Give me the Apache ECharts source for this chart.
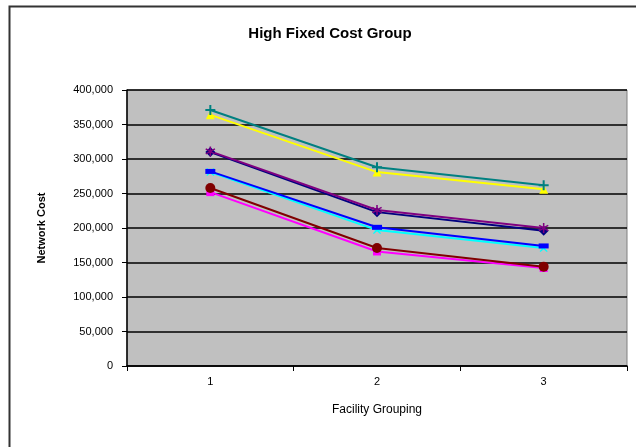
<!DOCTYPE html>
<html>
<head>
<meta charset="utf-8">
<script src="https://cdn.jsdelivr.net/npm/echarts@6/dist/echarts.min.js"></script>
<style>html,body{margin:0;padding:0;background:#fff;}#c{width:636px;height:447px;}</style>
</head>
<body>
<div id="c"></div>
<script>
var categories = ['1', '2', '3'];
var navyDiamond = [310000, 223000, 196000];
var magentaSquare = [252000, 166000, 142000];
var yellowTriangle = [364000, 281000, 256000];
var cyanX = [281000, 197000, 171000];
var purpleStar = [311000, 226000, 200000];
var darkRedCircle = [258000, 171000, 144000];
var tealPlus = [371000, 288000, 262000];
var blueDash = [282000, 201000, 174000];
var yTicks = [0, 50000, 100000, 150000, 200000, 250000, 300000, 350000, 400000];

var FONT = 'Liberation Sans, Arial, sans-serif';
var plusPath = 'path://M4,0 L6,0 L6,4 L10,4 L10,6 L6,6 L6,10 L4,10 L4,6 L0,6 L0,4 L4,4 Z';
var xPath = 'path://M1,0 L5,3.6 L9,0 L10,1 L6.4,5 L10,9 L9,10 L5,6.4 L1,10 L0,9 L3.6,5 L0,1 Z';
var starPath = 'path://M4.3,0 L5.7,0 L5.7,3.6 L8.8,1.8 L9.5,3 L6.4,4.8 L6.4,5.2 L9.5,7 L8.8,8.2 L5.7,6.4 L5.7,10 L4.3,10 L4.3,6.4 L1.2,8.2 L0.5,7 L3.6,5.2 L3.6,4.8 L0.5,3 L1.2,1.8 L4.3,3.6 Z';

function mk(name, data, color, symbol, size) {
  return {
    name: name, type: 'line', data: data,
    symbol: symbol, symbolSize: size,
    lineStyle: {color: color, width: 2},
    itemStyle: {color: color},
    animation: false
  };
}

var chart = echarts.init(document.getElementById('c'));
chart.setOption({
  backgroundColor: '#ffffff',
  animation: false,
  title: {
    text: 'High Fixed Cost Group',
    left: 325, top: 21, textAlign: 'center',
    textStyle: {fontFamily: FONT, fontSize: 15, fontWeight: 'bold', color: '#000'}
  },
  graphic: [{
    type: 'rect', left: 7, top: 4, silent: true,
    shape: {width: 700, height: 520},
    style: {fill: 'none', stroke: '#333', lineWidth: 2}
  }],
  grid: {
    left: 127, right: 9, top: 90, bottom: 81,
    show: true, backgroundColor: '#C0C0C0', borderColor: '#808080', borderWidth: 1
  },
  xAxis: {
    type: 'category', data: categories, boundaryGap: true,
    name: 'Facility Grouping', nameLocation: 'middle', nameGap: 38,
    nameTextStyle: {fontFamily: FONT, fontSize: 12, color: '#000'},
    axisLine: {lineStyle: {color: '#000', width: 1.5}},
    axisTick: {show: true, length: 5, lineStyle: {color: '#000'}},
    axisLabel: {fontFamily: FONT, fontSize: 11, color: '#000', margin: 10},
    splitLine: {show: false}
  },
  yAxis: {
    type: 'value', min: 0, max: 400000, interval: 50000,
    name: 'Network Cost', nameLocation: 'middle', nameGap: 80,
    nameTextStyle: {fontFamily: FONT, fontSize: 11, fontWeight: 'bold', color: '#000'},
    axisLine: {show: true, lineStyle: {color: '#000', width: 1.5}},
    axisTick: {show: true, length: 5, lineStyle: {color: '#000'}},
    axisLabel: {
      fontFamily: FONT, fontSize: 11, color: '#000', margin: 14,
      formatter: function (v) { return yTicks.indexOf(v) >= 0 ? v.toLocaleString('en-US') : ''; }
    },
    splitLine: {show: true, lineStyle: {color: '#000', width: 1.5}}
  },
  series: [
    mk('S1', navyDiamond, '#000080', 'diamond', 10),
    mk('S2', magentaSquare, '#FF00FF', 'rect', 8),
    mk('S3', yellowTriangle, '#FFFF00', 'triangle', 9),
    mk('S4', cyanX, '#00FFFF', xPath, 8),
    mk('S5', purpleStar, '#800080', starPath, 10),
    mk('S6', darkRedCircle, '#800000', 'circle', 10),
    mk('S7', tealPlus, '#008080', plusPath, 10),
    mk('S8', blueDash, '#0000FF', 'path://M0,0 L10,0 L10,5 L0,5 Z', [10, 5])
  ]
});
</script>
</body>
</html>
